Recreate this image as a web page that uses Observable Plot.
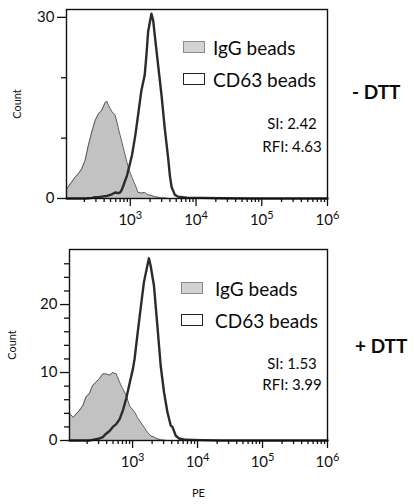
<!DOCTYPE html>
<html><head><meta charset="utf-8">
<script src="https://cdn.jsdelivr.net/npm/d3@7"></script>
<script src="https://cdn.jsdelivr.net/npm/@observablehq/plot@0.6"></script>
<style>
body{margin:0;background:#fff;font-family:Lato,sans-serif}
#wrap{position:relative;width:414px;height:504px;overflow:hidden}
#wrap svg{position:absolute;left:0}
.lab{position:absolute;white-space:nowrap;color:#0a0a0a;line-height:1;transform:translateY(-50%)}
.ctr{transform:translate(-50%,-50%)}
.sw{position:absolute;box-sizing:border-box}
</style></head><body><div id="wrap"></div>
<script>
// ---- data ----
// Top panel (- DTT)
const peTop = [108,128,144,162,182,205,230,259,291,327,369,414,440,466,525,589,662,703,747,789,838,890,942,1000,1062,1124,1193,1313,1474,1655,1758,1866,2098,2228,2357,2655,2985,3352,3774,3999,4246,4768,5370,7210,12230,24800,71300,292000,1000000];
const iggTop = [1.6,2.7,3.5,4.1,4.9,6.3,8.8,11.0,12.9,14.0,14.6,15.9,16.1,15.4,14.4,13.8,11.5,10.4,9.3,8.2,7.1,6.0,4.9,4.2,3.5,2.8,2.2,1.0,0.9,1.0,0.8,0.6,0.5,0.4,0.3,0.2,0.1,0.1,0,0,0,0,0,0,0,0,0,0,0];
const cd63Top = [0,0,0,0,0,0,0.05,0.1,0.2,0.2,0.3,0.4,0.4,0.5,0.7,1.0,0.9,1.0,1.5,2.2,3.0,3.8,4.9,6.0,7.2,8.8,10.5,13.8,17.9,20.4,23.7,27.6,30.6,29.5,27.0,22.0,17.1,11.5,6.6,3.8,1.9,0.6,0.3,0.15,0.1,0.05,0,0,0];
// Bottom panel (+ DTT)
const peBot = [107,122,135,152,171,192,216,243,275,309,348,392,442,497,560,630,708,800,899,1011,1074,1182,1330,1496,1687,1786,1897,2133,2408,2709,3048,3436,3864,4108,4622,5200,6595,11250,22900,66700,276000,1000000];
const iggBot = [4.0,3.4,3.9,4.4,5.1,6.4,6.9,8.1,8.6,9.1,9.8,9.8,9.6,10.0,9.8,8.6,7.6,6.6,5.1,4.5,4.2,3.4,2.7,2.0,1.2,1.0,0.7,0.5,0.25,0.1,0.05,0,0,0,0,0,0,0,0,0,0,0];
const cd63Bot = [0,0,0,0,0,0,0,0.1,0.2,0.3,0.5,1.0,1.4,2.0,2.4,3.1,4.4,6.2,8.4,10.5,12.0,15.4,19.4,23.3,25.7,26.8,25.7,22.8,16.9,11.0,7.1,4.2,2.2,2.0,0.7,0.3,0.1,0.05,0,0,0,0];

const xMajor = [1e3, 1e4, 1e5, 1e6];
const xMinor = [200,300,400,500,600,700,800,900,2e3,3e3,4e3,5e3,6e3,7e3,8e3,9e3,2e4,3e4,4e4,5e4,6e4,7e4,8e4,9e4,2e5,3e5,4e5,5e5,6e5,7e5,8e5,9e5];
const yMajorTop = [0, 30];
const yMinorTop = [10, 20];
const yMajorBot = [0, 10, 20];
const yMinorBot = [2,4,6,8,12,14,16,18,22,24,26];
const seriesNames = ["IgG beads", "CD63 beads"];
const conditions = ["- DTT", "+ DTT"];
const siValues = ["SI: 2.42", "SI: 1.53"];
const rfiValues = ["RFI: 4.63", "RFI: 3.99"];

const wrap = document.getElementById("wrap");

function panel(pe, igg, cd63, o) {
  const data = pe.map((x, i) => ({x, igg: igg[i], cd63: cd63[i]}));
  const svg = Plot.plot({
    width: 414, height: o.height,
    marginLeft: o.ml, marginRight: 87, marginTop: 9, marginBottom: o.mb,
    style: {fontFamily: "Lato, sans-serif", color: "#111", background: "transparent"},
    x: {type: "log", domain: [107, 1e6], label: null},
    y: {domain: [0, o.ymax], label: null},
    marks: [
      Plot.areaY(data, {x: "x", y: "igg", fill: "#c2c2c2"}),
      Plot.lineY(data, {x: "x", y: "igg", stroke: "#4a4a4a", strokeWidth: 0.9}),
      Plot.lineY(data, {x: "x", y: "cd63", stroke: "#2b2b2b", strokeWidth: 2.4}),
      Plot.frame({stroke: "#111", strokeWidth: 1.4}),
      Plot.axisX(xMinor, {tickSize: 4, strokeWidth: 1.3, tickFormat: () => "", label: null}),
      Plot.axisX(xMajor, {tickSize: 8, strokeWidth: 1.3, tickPadding: 8, fontSize: 15,
        tickFormat: d => "10^" + Math.round(Math.log10(d)),
        label: o.xlabel, labelAnchor: "center", labelArrow: "none", labelOffset: o.xlabelOffset}),
      Plot.axisY(o.yMinor, {tickSize: 5, strokeWidth: 1.3, tickFormat: () => "", label: null}),
      Plot.axisY(o.yMajor, {tickSize: 9, strokeWidth: 1.3, tickPadding: 3, fontSize: 15,
        label: "Count", labelAnchor: "center", labelArrow: "none", labelOffset: o.ylabelOffset})
    ]
  });
  svg.style.top = o.top + "px";
  // superscript exponents on the decade labels
  svg.querySelectorAll("text").forEach(t => {
    const s = t.textContent;
    if (/^10\^\d$/.test(s)) {
      const e = s.slice(3);
      t.textContent = "";
      const a = document.createElementNS("http://www.w3.org/2000/svg", "tspan");
      a.textContent = "10";
      const b = document.createElementNS("http://www.w3.org/2000/svg", "tspan");
      b.textContent = e; b.setAttribute("dy", "-6"); b.setAttribute("font-size", "11");
      t.appendChild(a); t.appendChild(b);
    }
  });
  svg.querySelectorAll('g[aria-label="x-axis label"] text, g[aria-label="y-axis label"] text').forEach(t => t.setAttribute("font-size", "11"));
  wrap.appendChild(svg);
}

panel(peTop, iggTop, cd63Top, {top: 0, height: 240, ml: 66, mb: 42, ymax: 31.3,
  yMajor: yMajorTop, yMinor: yMinorTop, ylabelOffset: 53, xlabel: null, xlabelOffset: 0});
panel(peBot, iggBot, cd63Bot, {top: 240, height: 264, ml: 69, mb: 64, ymax: 28.1,
  yMajor: yMajorBot, yMinor: yMinorBot, ylabelOffset: 61, xlabel: "PE", xlabelOffset: 56});

function addDiv(cls, style, text) {
  const d = document.createElement("div");
  d.className = cls;
  Object.assign(d.style, style);
  if (text != null) d.textContent = text;
  wrap.appendChild(d);
}
const legendRows = [
  {swX: 183, y: [47, 79], txX: 213, si: [123, 146], cond: 91, condX: 352},
  {swX: 181, y: [288, 320], txX: 215, si: [363, 384], cond: 345, condX: 355}
];
legendRows.forEach((r, p) => {
  seriesNames.forEach((name, i) => {
    addDiv("sw", {left: r.swX + "px", top: (r.y[i] - 6) + "px", width: "22px", height: "12px",
      background: i === 0 ? "#d3d3d3" : "#fff", border: i === 0 ? "1.6px solid #8c8c8c" : "1.2px solid #222"});
    addDiv("lab", {left: r.txX + "px", top: r.y[i] + "px", fontSize: "19px"}, name);
  });
  addDiv("lab ctr", {left: "292px", top: r.si[0] + "px", fontSize: "15px"}, siValues[p]);
  addDiv("lab ctr", {left: "292px", top: r.si[1] + "px", fontSize: "15px"}, rfiValues[p]);
  addDiv("lab", {left: r.condX + "px", top: r.cond + "px", fontSize: "19px", fontWeight: "bold"}, conditions[p]);
});
</script></body></html>
